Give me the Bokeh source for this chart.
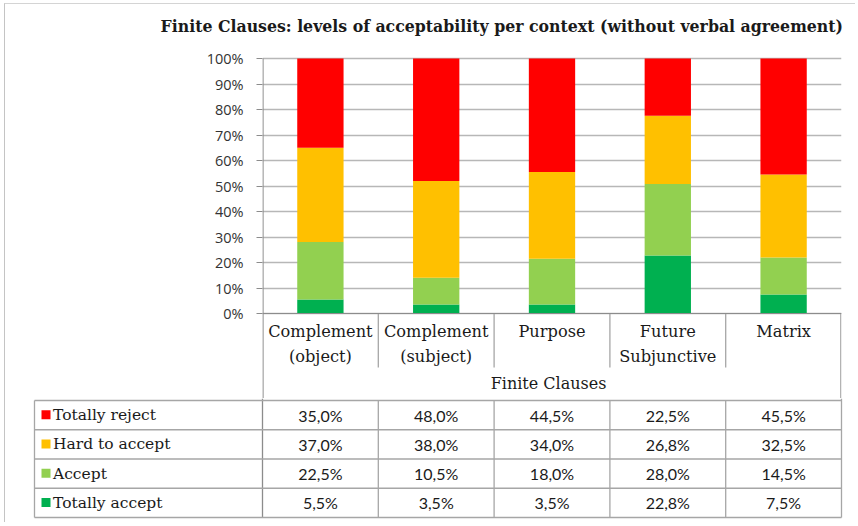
from bokeh.plotting import figure
from bokeh.layouts import column
from bokeh.models import Range1d, FactorRange, FixedTicker, CustomJSTickFormatter, Span, ColumnDataSource
from bokeh.core.properties import value
from bokeh.embed import file_html
from bokeh.resources import INLINE

# ---------------- data ----------------
categories = ["Complement\n(object)", "Complement\n(subject)", "Purpose", "Future\nSubjunctive", "Matrix"]
series = ["Totally reject", "Hard to accept", "Accept", "Totally accept"]
totally_reject = [35.0, 48.0, 44.5, 22.5, 45.5]
hard_to_accept = [37.0, 38.0, 34.0, 26.8, 32.5]
accept = [22.5, 10.5, 18.0, 28.0, 14.5]
totally_accept = [5.5, 3.5, 3.5, 22.8, 7.5]
y_ticks = [0, 10, 20, 30, 40, 50, 60, 70, 80, 90, 100]
group_label = "Finite Clauses"
title_text = "Finite Clauses: levels of acceptability per context (without verbal agreement)"
colors = {"Totally reject": "#FF0000", "Hard to accept": "#FFC000",
          "Accept": "#92D050", "Totally accept": "#00B050"}

values = {"Totally reject": totally_reject, "Hard to accept": hard_to_accept,
          "Accept": accept, "Totally accept": totally_accept}

# ---------------- layout constants (page pixels) ----------------
OX, OY = 5, 4            # content origin (after margin + 1px border)
FIG_W = 850
PLOT_L, PLOT_R = 262, 841
Y100, Y0 = 58, 313       # pixel rows of 100% and 0%
TITLE_BOTTOM = 42        # boundary between title strip and chart
SPLIT = 398              # boundary between chart figure and table figure
FIG_B_BOTTOM = 522
TABLE_L = 34
TABLE_TOP = 400
ROW_H = 29.25
HDR_SEP_END = 367
TITLE_Y = 26
TITLE_RIGHT = 842.5
CAT_LINE_Y = [331, 356]
GROUP_Y = 383

SERIF = "DejaVu Serif"
SANS = "Lato"
GRID = "#b7b7b7"
AXIS = "#8c8c8c"
TABLE_LINE = "#a6a6a6"
TXT = "#1a1a1a"

n_cat = len(categories)
n_row = len(series)
CAT_W = (PLOT_R - PLOT_L) / n_cat


def blank_fig(top, bottom):
    f = figure(width=FIG_W, height=bottom - top,
               x_range=Range1d(OX, OX + FIG_W), y_range=Range1d(bottom, top),
               output_backend="svg", toolbar_location=None,
               min_border=0, min_border_left=0, min_border_right=0,
               min_border_top=0, min_border_bottom=0)
    f.frame_align = False
    f.outline_line_color = None
    f.axis.visible = False
    f.grid.visible = False
    return f


# ---------------- title strip ----------------
pt = blank_fig(OY, TITLE_BOTTOM)
pt.text(x=[TITLE_RIGHT], y=[TITLE_Y], text=[title_text],
        text_align="right", text_baseline="middle",
        text_font=value(SERIF), text_font_style="bold", text_font_size="15.75px",
        text_color=TXT)

# ---------------- chart + header ----------------
totals = [sum(values[s][i] for s in series) for i in range(n_cat)]
src = ColumnDataSource(dict(
    cat=categories,
    **{s: [values[s][i] / totals[i] * 100 for i in range(n_cat)] for s in series}
))

ppu = (Y0 - Y100) / 100.0
def py(pix):  # page pixel row -> chart data units
    return (Y0 - pix) / ppu

ya_start = py(SPLIT)
ya_end = py(TITLE_BOTTOM)

pa = figure(width=FIG_W, height=SPLIT - TITLE_BOTTOM,
            x_range=FactorRange(*categories), y_range=Range1d(ya_start, ya_end),
            output_backend="svg", toolbar_location=None,
            min_border_left=PLOT_L - OX, min_border_right=OX + FIG_W - PLOT_R,
            min_border_top=0, min_border_bottom=0)
pa.frame_align = False
pa.outline_line_color = None

stack_order = list(reversed(series))
pa.vbar_stack(stack_order, x="cat", width=0.4, source=src,
              color=[colors[s] for s in stack_order], line_color=None)

pa.xaxis.visible = False
pa.xgrid.visible = False
pa.ygrid.grid_line_color = GRID
pa.ygrid.grid_line_width = 1.4
pa.yaxis.ticker = FixedTicker(ticks=y_ticks)
pa.yaxis.formatter = CustomJSTickFormatter(code="return tick.toFixed(0) + '%';")
pa.yaxis.axis_line_color = None
pa.yaxis.major_tick_line_color = AXIS
pa.yaxis.major_tick_out = 6
pa.yaxis.major_tick_in = 0
pa.yaxis.minor_tick_line_color = None
pa.yaxis.major_label_standoff = 13
pa.yaxis.major_label_text_font = "Open Sans"
pa.yaxis.major_label_text_font_size = "14.5px"
pa.yaxis.major_label_text_color = "#333333"
pa.add_layout(Span(location=0, dimension="width", line_color=AXIS, line_width=1.2))

# vertical axis line (from 100% down through the header)
pa.segment(x0=[0.004], y0=[100], x1=[0.004], y1=[ya_start], line_color=AXIS, line_width=1.3)

# category separators and right edge in the header area
sep_x = list(range(1, n_cat)) + [n_cat - 0.006]
sep_end = [py(HDR_SEP_END)] * (n_cat - 1) + [ya_start]
pa.segment(x0=sep_x, y0=[0] * n_cat, x1=sep_x, y1=sep_end,
           line_color=TABLE_LINE, line_width=1.3)

# category labels (one text per line)
cx, cy, ct = [], [], []
for c in categories:
    for j, line in enumerate(c.split("\n")):
        cx.append(c); cy.append(py(CAT_LINE_Y[j])); ct.append(line)
pa.text(x=cx, y=cy, text=ct, text_align="center", text_baseline="middle",
        text_font=value(SERIF), text_font_size="16.2px", text_color=TXT)

pa.text(x=[n_cat / 2 - 0.03], y=[py(GROUP_Y)], text=[group_label],
        text_align="center", text_baseline="middle",
        text_font=value(SERIF), text_font_size="16px", text_color=TXT)

# ---------------- data table ----------------
pb = blank_fig(SPLIT, FIG_B_BOTTOM)

col_edges = [PLOT_L + CAT_W * i for i in range(n_cat + 1)]
col_centers = [PLOT_L + CAT_W * (i + 0.5) for i in range(n_cat)]
row_edges = [TABLE_TOP + ROW_H * r for r in range(n_row + 1)]
row_centers = [TABLE_TOP + ROW_H * (r + 0.5) for r in range(n_row)]
table_bottom = row_edges[-1]

x0, y0, x1, y1 = [], [], [], []
x0.append(col_edges[0]); y0.append(SPLIT); x1.append(col_edges[0]); y1.append(table_bottom)
x0.append(col_edges[-1]); y0.append(SPLIT); x1.append(col_edges[-1]); y1.append(table_bottom)
for xe in col_edges[1:-1]:
    x0.append(xe); y0.append(TABLE_TOP); x1.append(xe); y1.append(table_bottom)
x0.append(TABLE_L); y0.append(TABLE_TOP); x1.append(TABLE_L); y1.append(table_bottom)
for ye in row_edges:
    x0.append(TABLE_L); y0.append(ye); x1.append(PLOT_R); y1.append(ye)
line_cols = [AXIS] + [TABLE_LINE] * (len(x0) - 1)
pb.segment(x0=x0, y0=y0, x1=x1, y1=y1, line_color=line_cols, line_width=1.3)

# legend keys + row labels
pb.scatter(x=[TABLE_L + 11.5] * n_row, y=[c - 0.5 for c in row_centers], marker="square", size=9,
           color=[colors[s] for s in series], line_color=None)
pb.text(x=[TABLE_L + 18.5] * n_row, y=row_centers, text=series,
        text_align="left", text_baseline="middle",
        text_font=value(SERIF), text_font_size="15.5px", text_color=TXT)

# values
vx, vy, vt = [], [], []
for r, s in enumerate(series):
    for i in range(n_cat):
        vx.append(col_centers[i]); vy.append(row_centers[r])
        vt.append(f"{values[s][i]:.1f}%".replace(".", ","))
pb.text(x=vx, y=vy, text=vt, text_align="center", text_baseline="middle",
        text_font=value(SANS), text_font_size="16px", text_color=TXT)

layout = column(pt, pa, pb, spacing=0,
                styles={"margin-left": "4px", "margin-top": "3px",
                        "border-left": "1px solid #c4c4c4", "border-top": "1px solid #d4d4d4"})

open("out.html", "w").write(file_html(layout, INLINE))
